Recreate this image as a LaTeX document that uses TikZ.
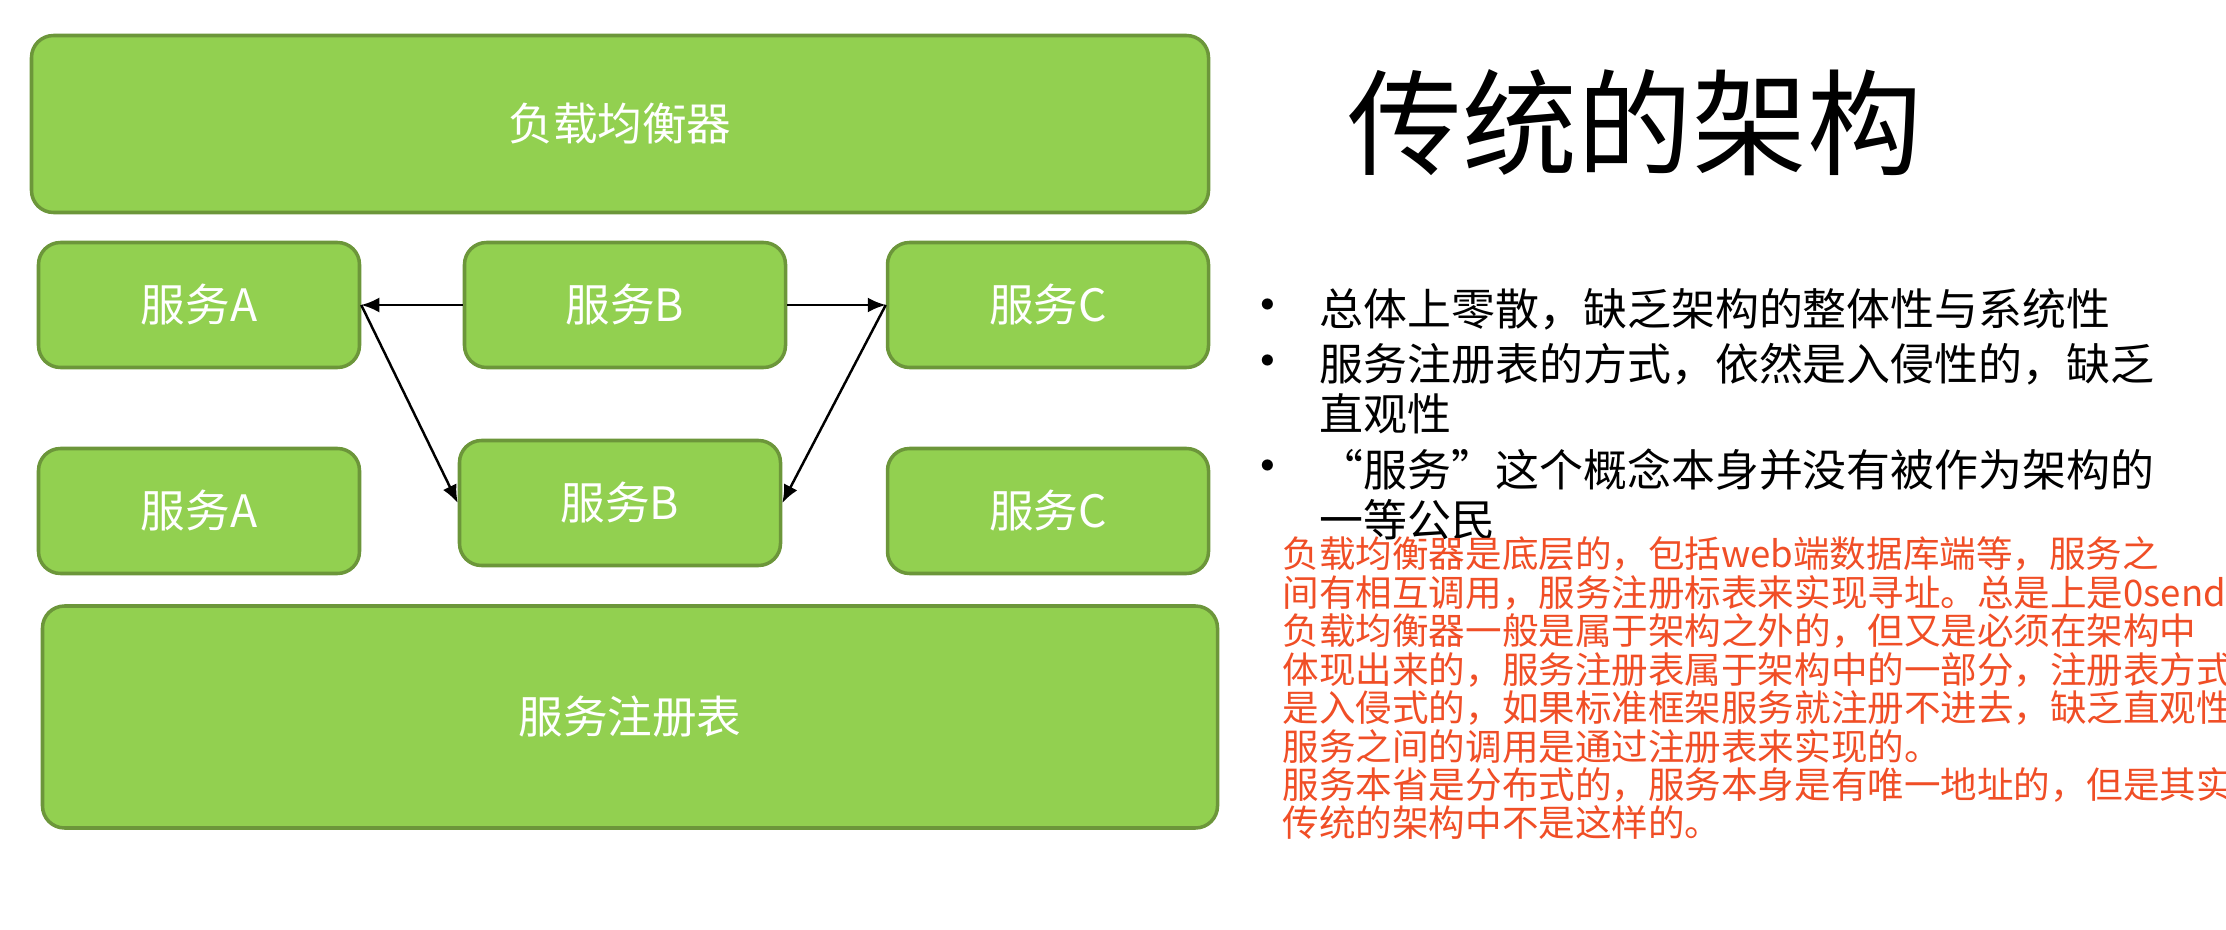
\documentclass[tikz,border=0pt]{standalone}
\usepackage{fontspec}
\setmainfont{Noto Sans CJK SC}
\usetikzlibrary{arrows.meta,positioning}
\definecolor{SvcGreen}{RGB}{146,208,80}
\definecolor{SvcEdge}{RGB}{108,150,58}
\definecolor{NoteRed}{RGB}{240,78,38}

\begin{document}
\begin{tikzpicture}[
  svc/.style={draw=SvcEdge,line width=1pt,fill=SvcGreen,rounded corners=0.22cm,
    minimum width=3.21cm,minimum height=1.25cm,text=white,
    font=\fontsize{12.7}{14}\selectfont},
  link/.style={-{Latex[length=1.8mm,width=1.5mm]},line width=0.7pt},
  pt/.style={anchor=north west,inner sep=0pt,align=left,
    font=\fontsize{12.5}{14.2}\selectfont},
  dot/.style={inner sep=0pt,font=\fontsize{15}{15}\selectfont}]
\useasboundingbox (0,0) rectangle (22.26,-9.30);
% green boxes
\node[svc,minimum width=11.77cm,minimum height=1.77cm] (lb) at (6.20,-1.24) {负载均衡器};
\foreach \n/\lab/\x/\y in {a1/服务A/1.99/-3.05, b1/服务B/6.25/-3.05, c1/服务C/10.48/-3.05,
  a2/服务A/1.99/-5.11, b2/服务B/6.20/-5.03, c2/服务C/10.48/-5.11}
  \node[svc] (\n) at (\x,\y) {\lab};
\node[svc,minimum width=11.75cm,minimum height=2.22cm] (reg) at (6.30,-7.17) {服务注册表};
% calls
\draw[link] (b1.west) -- (a1.east);
\draw[link] (b1.east) -- (c1.west);
\draw[link] (a1.east) -- (b2.west);
\draw[link] (c1.west) -- (b2.east);
% right side
\node[font=\fontsize{32.7}{36}\selectfont] (title) at (16.35,-1.23) {传统的架构};
\node[dot] (d1) at (12.68,-3.12) {•};
\node[dot] (d2) at (12.68,-3.68) {•};
\node[dot] (d3) at (12.68,-4.73) {•};
\node[pt] (p1) at (13.19,-2.88) {总体上零散，缺乏架构的整体性与系统性};
\node[pt] (p2) at (13.19,-3.43) {服务注册表的方式，依然是入侵性的，缺乏\\直观性};
\node[pt] (p3) at (13.19,-4.48) {“服务”这个概念本身并没有被作为架构的\\一等公民};
\node[anchor=north west,inner sep=0pt,align=left,text=NoteRed,
  font=\fontsize{10.4}{10.95}\selectfont] (note) at (12.82,-5.36)
  {负载均衡器是底层的，包括web端数据库端等，服务之\\
   间有相互调用，服务注册标表来实现寻址。总是上是0send\\
   负载均衡器一般是属于架构之外的，但又是必须在架构中\\
   体现出来的，服务注册表属于架构中的一部分，注册表方式\\
   是入侵式的，如果标准框架服务就注册不进去，缺乏直观性\\
   服务之间的调用是通过注册表来实现的。\\
   服务本省是分布式的，服务本身是有唯一地址的，但是其实\\
   传统的架构中不是这样的。};
\end{tikzpicture}
\end{document}
